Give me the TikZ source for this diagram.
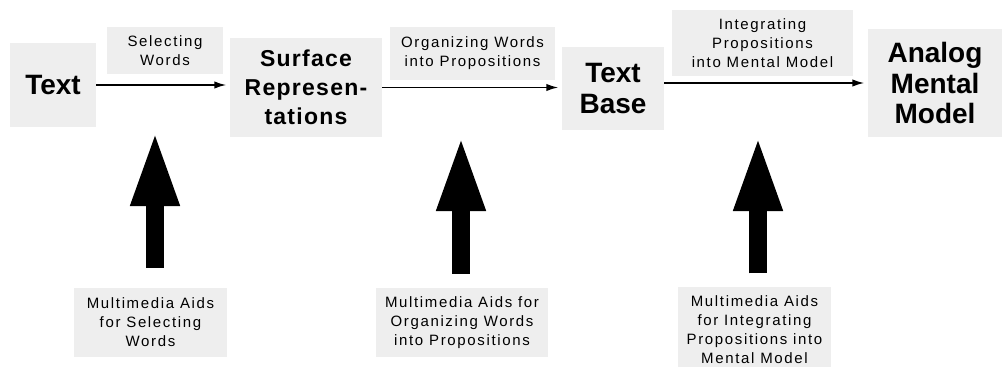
\documentclass[tikz,border=0pt]{standalone}
\usepackage{fontspec}
\setmainfont{Liberation Sans}
\newfontfamily\smallfont[LetterSpace=11]{Liberation Sans}
\newfontfamily\spacedfont[LetterSpace=5.5]{Liberation Sans}
\usetikzlibrary{arrows.meta}
\definecolor{boxgray}{RGB}{238,238,238}

\begin{document}
\begin{tikzpicture}
	[   x=0.75pt,y=-0.75pt,
		bnode/.style={fill=boxgray,inner sep=0pt,align=center,font=\fontsize{21}{23}\selectfont\bfseries},
		lnode/.style={fill=boxgray,inner sep=0pt,align=center,font=\smallfont\fontsize{11.25}{14.25}\selectfont},
	]
	\tikzset{normal arrow/.style={draw,line width=1.3pt,shorten >=2.5pt,-{Latex[length=9pt,width=5.5pt]}}}
	\tikzset{big arrow/.style={draw,line width=13.5pt,-{Triangle[length=57pt,width=33pt]}}}
	\useasboundingbox (0,0) rectangle (1002,367);
	
	% stages
	\node[bnode,minimum width=64.5pt,minimum height=63pt] (txt) at (53,85) {Text};
	\node[bnode,minimum width=114pt,minimum height=74.25pt,font=\spacedfont\fontsize{17.25}{21.75}\selectfont\bfseries] (surf) at (306,87.5) {Surface\\Represen-\\tations};
	\node[bnode,minimum width=76.5pt,minimum height=62.25pt] (base) at (613,88.5) {Text\\Base};
	\node[bnode,minimum width=100.5pt,minimum height=81pt] (model) at (935,83) {Analog\\Mental\\Model};
	
	% processes
	\node[lnode,minimum width=87pt,minimum height=35.25pt] (sel) at (165,50.5) {Selecting\\Words};
	\node[lnode,minimum width=123.75pt,minimum height=39.75pt] (org) at (472.5,53.5) {Organizing Words\\into Propositions};
	\node[lnode,minimum width=135.75pt,minimum height=49.5pt] (int) at (762.5,43) {Integrating\\Propositions\\into Mental Model};
	
	\path[normal arrow] (txt.east) -- (txt.east -| surf.west);
	\path[normal arrow] (surf.east) -- (surf.east -| base.west);
	\path[normal arrow] (base.east |- model.west) -- (model.west);
	
	% aids
	\node[lnode,minimum width=114.75pt,minimum height=51.75pt] (aid-1) at (150.5,322.5) {Multimedia Aids\\for Selecting\\Words};
	\node[lnode,minimum width=129pt,minimum height=51.75pt] (aid-2) at (462,322.5) {Multimedia Aids for\\Organizing Words\\into Propositions};
	\node[lnode,minimum width=114.75pt,minimum height=63.75pt] (aid-3) at (754.5,329.5) {Multimedia Aids\\for Integrating\\Propositions into\\Mental Model};
	
	\coordinate (tip-1) at (155,130);
	\coordinate (tip-2) at (461,135);
	\coordinate (tip-3) at (758,135);
	\foreach \i/\s in {1/15pt,2/10.5pt,3/10pt}
	{
		\path[big arrow,shorten <=\s] (aid-\i.north -| tip-\i) -- (tip-\i);
	}
\end{tikzpicture}
\end{document}
